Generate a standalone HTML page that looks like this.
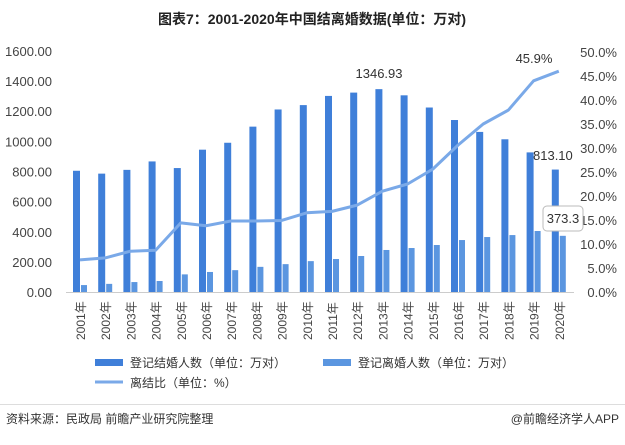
<!DOCTYPE html>
<html><head><meta charset="utf-8"><style>
body{margin:0;background:#fff;width:625px;height:440px;overflow:hidden;font-family:"Liberation Sans","Noto Sans CJK SC",sans-serif}
</style></head><body>
<svg width="625" height="440" xmlns="http://www.w3.org/2000/svg" font-family="Liberation Sans, Noto Sans CJK SC, sans-serif">
<text x="312" y="24" text-anchor="middle" font-size="14" font-weight="bold" fill="#222">图表7：2001-2020年中国结离婚数据(单位：万对)</text>
<g id="g"></g>
<line x1="66" y1="292.5" x2="574" y2="292.5" stroke="#ccc"/>
<g font-size="13" fill="#444" text-anchor="end">
<text x="52" y="297">0.00</text><text x="52" y="236.8">400.00</text><text x="52" y="267">200.00</text><text x="52" y="206.6">600.00</text><text x="52" y="176.5">800.00</text><text x="52" y="146.4">1000.00</text><text x="52" y="116.2">1200.00</text><text x="52" y="86">1400.00</text><text x="52" y="56">1600.00</text>
</g>
<g font-size="13" fill="#444" text-anchor="end">
<text x="617" y="297">0.0%</text><text x="617" y="273">5.0%</text><text x="617" y="249">10.0%</text><text x="617" y="225">15.0%</text><text x="617" y="201">20.0%</text><text x="617" y="177">25.0%</text><text x="617" y="153">30.0%</text><text x="617" y="129">35.0%</text><text x="617" y="105">40.0%</text><text x="617" y="81">45.0%</text><text x="617" y="57">50.0%</text>
</g>
<text x="379" y="78" font-size="13" fill="#333" text-anchor="middle">1346.93</text>
<text x="534" y="63" font-size="13" fill="#333" text-anchor="middle">45.9%</text>
<text x="533" y="160" font-size="13" fill="#333" text-anchor="start">813.10</text>
<rect x="543" y="206" width="40" height="25" rx="4" fill="#fff" stroke="#bbb"/>
<text x="563" y="223" font-size="13" fill="#333" text-anchor="middle">373.3</text>
<rect x="95" y="359" width="28" height="7" fill="#3f7fd9"/>
<text x="130" y="367" font-size="12" fill="#333">登记结婚人数（单位：万对）</text>
<rect x="323" y="359" width="28" height="7" fill="#5b96e0"/>
<text x="358" y="367" font-size="12" fill="#333">登记离婚人数（单位：万对）</text>
<line x1="95" y1="382" x2="123" y2="382" stroke="#7aa9e8" stroke-width="3"/>
<text x="130" y="387" font-size="12" fill="#333">离结比（单位：%）</text>
<line x1="0" y1="404.5" x2="625" y2="404.5" stroke="#ddd"/>
<text x="6" y="423" font-size="12" fill="#333">资料来源：民政局 前瞻产业研究院整理</text>
<text x="619" y="423" font-size="12" fill="#333" text-anchor="end">@前瞻经济学人APP</text>
</svg>
<script>
var m=[805,786,811,867,823,945,991,1098,1212,1241,1302,1324,1347,1306,1225,1142,1063,1014,927,813];
var d=[46,54,66,73,117,133,145,167,185,205,219,239,279,292,312,345,365,378,405,373];
var r=[6.7,7.1,8.5,8.7,14.4,13.8,14.8,14.8,14.9,16.5,16.8,18.1,21,22.5,25.6,30.6,35,37.9,44,46];
var s='',pts=[],base=292,k=0.1506;
for(var i=0;i<20;i++){var x=73+i*25.2;
s+='<rect x="'+x+'" y="'+(base-m[i]*k)+'" width="7" height="'+(m[i]*k)+'" fill="#3f7fd9"/>';
s+='<rect x="'+(x+8)+'" y="'+(base-d[i]*k)+'" width="6" height="'+(d[i]*k)+'" fill="#5b96e0"/>';
pts.push((x+7)+','+(base-r[i]*4.8));
s+='<text transform="translate('+(x+12)+',340) rotate(-90)" font-size="12" fill="#444">'+(2001+i)+'年</text>';}
s+='<polyline points="'+pts.join(' ')+'" fill="none" stroke="#7aa9e8" stroke-width="3" stroke-linejoin="round"/>';
document.getElementById('g').innerHTML=s;
</script>
</body></html>
